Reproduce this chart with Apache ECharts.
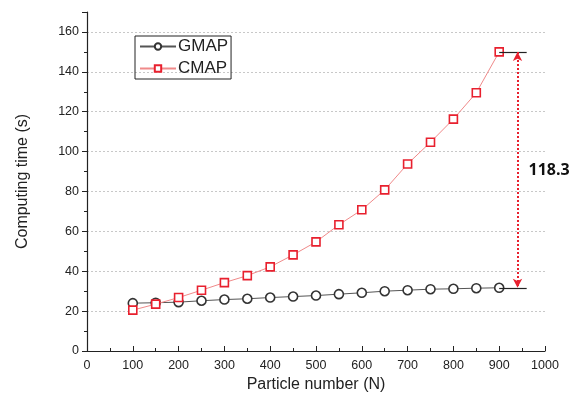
<!DOCTYPE html>
<html>
<head>
<meta charset="utf-8">
<script src="https://cdn.jsdelivr.net/npm/echarts@6/dist/echarts.min.js"></script>
<style>
  html, body { margin: 0; padding: 0; background: #fff; }
  #chart { width: 579px; height: 403px; }
</style>
</head>
<body>
<div id="chart"></div>
<script>
// particle counts on the x axis
const particles = [100, 150, 200, 250, 300, 350, 400, 450, 500, 550, 600, 650, 700, 750, 800, 850, 900];
// computing time (s)
const gmapTime = [24.0, 24.2, 24.5, 25.2, 25.8, 26.2, 26.8, 27.3, 27.8, 28.5, 29.2, 30.0, 30.5, 31.0, 31.2, 31.5, 31.7];
const cmapTime = [20.5, 23.5, 26.8, 30.5, 34.3, 37.8, 42.2, 48.2, 54.7, 63.3, 70.8, 80.8, 93.8, 104.7, 116.3, 129.5, 150.0];
const seriesNames = ['GMAP', 'CMAP'];

const FONT = 'Liberation Sans, Arial, sans-serif';

const lastX = particles[particles.length - 1];
const gTop = cmapTime[cmapTime.length - 1];
const gBottom = gmapTime[gmapTime.length - 1];
const gap = (gTop - gBottom).toFixed(1);
const bracketEnd = lastX + 60;
const arrowX = lastX + 40;

const chart = echarts.init(document.getElementById('chart'));

chart.setOption({
  backgroundColor: '#fff',
  animation: false,
  grid: { left: 87, right: 34, top: 12, bottom: 52 },
  legend: {
    orient: 'vertical',
    left: 135,
    top: 36,
    itemWidth: 36,
    itemHeight: 8,
    itemGap: 5,
    padding: [2, 3, 2, 4],
    borderColor: '#222',
    borderWidth: 1,
    borderRadius: 0,
    textStyle: { fontFamily: FONT, fontSize: 17, color: '#222', padding: [0, 0, 0, -3] },
    data: seriesNames
  },
  xAxis: {
    type: 'value',
    min: 0,
    max: 1000,
    interval: 100,
    name: 'Particle number (N)',
    nameLocation: 'middle',
    nameGap: 26,
    nameTextStyle: { fontFamily: FONT, fontSize: 16, color: '#222' },
    axisLine: { lineStyle: { color: '#222', width: 1.2 } },
    axisTick: { inside: true, length: 5, lineStyle: { color: '#222' } },
    minorTick: { show: true, splitNumber: 2, length: 3, lineStyle: { color: '#222' } },
    axisLabel: { fontFamily: FONT, fontSize: 12.5, color: '#222', margin: 8, formatter: v => String(v) },
    splitLine: { show: false }
  },
  yAxis: {
    type: 'value',
    min: 0,
    max: 170,
    interval: 20,
    name: 'Computing time (s)',
    nameLocation: 'middle',
    nameGap: 56,
    nameTextStyle: { fontFamily: FONT, fontSize: 16, color: '#222' },
    axisLine: { show: true, lineStyle: { color: '#222', width: 1.2 } },
    axisTick: { show: true, length: 5, lineStyle: { color: '#222' } },
    minorTick: { show: true, splitNumber: 2, length: 3, lineStyle: { color: '#222' } },
    axisLabel: { fontFamily: FONT, fontSize: 12.5, color: '#222', margin: 8, showMaxLabel: false },
    splitLine: {
      show: true,
      showMinLine: false,
      showMaxLine: false,
      lineStyle: { color: '#c8c8c8', type: [2, 2], width: 1 }
    }
  },
  series: [
    {
      name: seriesNames[0],
      type: 'line',
      data: particles.map((x, i) => [x, gmapTime[i]]),
      symbol: 'circle',
      symbolSize: 9,
      itemStyle: { color: '#fff', borderColor: '#333', borderWidth: 1.6 },
      lineStyle: { color: '#555', width: 1 },
      z: 3
    },
    {
      name: seriesNames[1],
      type: 'line',
      data: particles.map((x, i) => [x, cmapTime[i]]),
      symbol: 'rect',
      symbolSize: 8,
      itemStyle: { color: '#fff', borderColor: '#e8202e', borderWidth: 1.6 },
      lineStyle: { color: '#f08a8a', width: 1 },
      z: 4,
      markLine: {
        silent: true,
        symbol: ['none', 'none'],
        label: { show: false },
        data: [
          [{ coord: [lastX, gTop], lineStyle: { color: '#222', width: 1.2, type: 'solid' } }, { coord: [bracketEnd, gTop] }],
          [{ coord: [lastX, gBottom], lineStyle: { color: '#222', width: 1.2, type: 'solid' } }, { coord: [bracketEnd, gBottom] }],
          [
            { coord: [arrowX, gTop], symbol: 'arrow', symbolSize: [7, 9],
              lineStyle: { color: '#e8202e', width: 2, type: [2, 2] } },
            { coord: [arrowX, gBottom], symbol: 'arrow', symbolSize: [7, 9] }
          ]
        ]
      },
      markPoint: {
        silent: true,
        symbol: 'circle',
        symbolSize: 0,
        label: {
          show: true,
          position: 'right',
          distance: 11,
          fontFamily: 'Open Sans, Liberation Sans, sans-serif',
          fontWeight: 'bold',
          fontSize: 16,
          color: '#111',
          formatter: gap
        },
        data: [{ coord: [arrowX, (gTop + gBottom) / 2 - 0.5] }]
      }
    }
  ]
});
</script>
</body>
</html>
